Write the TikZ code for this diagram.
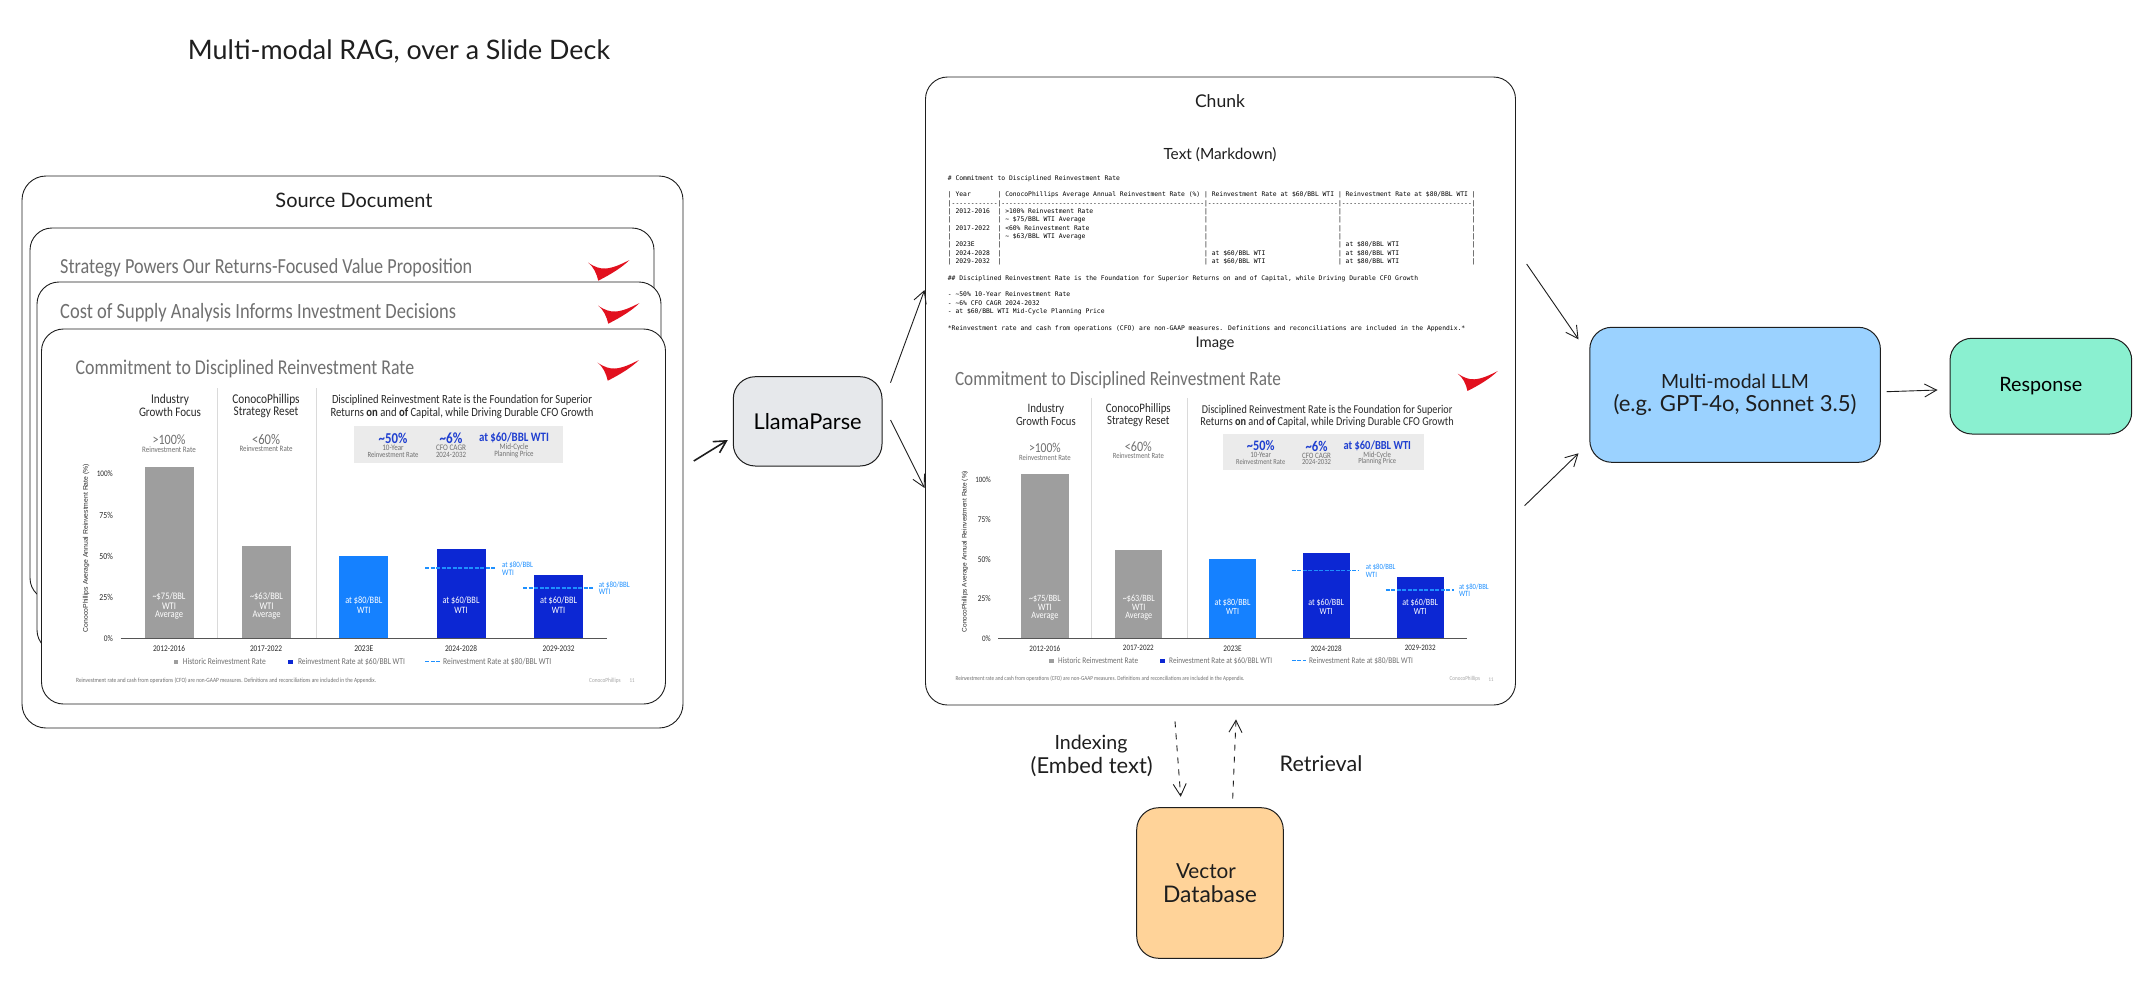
\documentclass[tikz,border=0pt]{standalone}
\usepackage{graphicx}
\usepackage{fontspec}
\usetikzlibrary{arrows.meta}
\setmainfont{Carlito}
\newfontfamily\handf{Lato}
\newfontfamily\arialf{Liberation Sans}
\newfontfamily\mdf{DejaVu Sans Mono}
\definecolor{ink}{HTML}{1E1E1E}
\definecolor{sgray}{HTML}{707070}
\definecolor{sdark}{HTML}{2A2A2A}
\definecolor{barg}{HTML}{9E9E9E}
\definecolor{barl}{HTML}{1581FF}
\definecolor{bard}{HTML}{0C27D3}
\definecolor{sblue}{HTML}{1F3FD0}
\definecolor{dashb}{HTML}{1E90FF}
\definecolor{divc}{HTML}{DADADA}
\definecolor{boxg}{HTML}{EBEBEB}
\definecolor{logor}{HTML}{E2101E}
\definecolor{llamac}{HTML}{E6E8EB}
\definecolor{llmc}{HTML}{9BD2FF}
\definecolor{respc}{HTML}{8AF0D0}
\definecolor{vdbc}{HTML}{FFD399}
\newcommand\fw[2]{\resizebox{#1pt}{!}{#2}}
\newlength\mdch \setlength{\mdch}{3.825pt}
\newcommand\mdrow[4]{|\makebox[12\mdch][l]{#1}|\makebox[53\mdch][l]{#2}|\makebox[34\mdch][l]{#3}|\makebox[34\mdch][l]{#4}|}
\newcommand\mddash[1]{\makebox[#1\mdch][l]{\xleaders\hbox{-}\hfill}}
\tikzset{
  panel/.style={draw=ink,line width=.9pt,fill=white,rounded corners=22pt,inner sep=0pt},
  flow/.style={draw=ink,line width=1pt,rounded corners=22pt,inner sep=0pt},
  arr/.style={draw=ink,line width=.9pt,-{Straight Barb[length=12pt,width=13pt]}},
  arrthick/.style={arr,line width=1.6pt},
  dasharr/.style={arr,dash pattern=on 6pt off 6pt},
  hand/.style={inner sep=0pt,text=ink,font=\handf\fontsize{20}{24}\selectfont},
  sltext/.style={inner sep=0pt,text=sgray,font=\fontsize{20}{24}\selectfont},
  sdarkt/.style={sltext,text=sdark},
  sbluet/.style={sltext,text=sblue,font=\bfseries\fontsize{20}{24}\selectfont},
  swhite/.style={sltext,text=white},
  slb/.style={sltext,text=dashb},
  dashline/.style={draw=dashb,line width=1.4pt,dash pattern=on 4pt off 1.5pt},
}
\newcommand\sltxt[6][]{\node[sltext,#1] (#2) at (#3,#4) {\scalebox{1}[1.18]{\fw{#5}{#6}}};}
\newcommand\logomark[2]{\fill[logor,shift={(#1,#2)}] (0.7,2.7) .. controls (7,7) and (13,9) .. (18,8.5) .. controls (26,8) and (34,4) .. (42,0) .. controls (35,7) and (24,14) .. (10.7,20.7) .. controls (9,13) and (6,7) .. (0.7,2.7) -- cycle;}
\newcommand\slidebody{%
  \sltxt[anchor=west]{title}{75.5}{369}{338.5}{Commitment to Disciplined Reinvestment Rate}
  \logomark{597}{360}
  \draw[divc,line width=.7pt] (217.4,388) -- (217.4,638.3);
  \draw[divc,line width=.7pt] (316.5,388) -- (316.5,638.3);
  \sltxt[sdarkt]{ha}{170}{400}{38}{Industry}
  \sltxt[sdarkt]{hb}{170}{412}{62}{Growth Focus}
  \sltxt[sdarkt]{hc}{266}{400}{67.4}{ConocoPhillips}
  \sltxt[sdarkt]{hd}{266}{412}{64.7}{Strategy Reset}
  \sltxt[sdarkt]{he}{462}{400.5}{260}{Disciplined Reinvestment Rate is the Foundation for Superior}
  \sltxt[sdarkt]{hf}{462}{413}{263}{Returns \textbf{on} and \textbf{of} Capital, while Driving Durable CFO Growth}
  \sltxt{pa}{169}{440}{33}{>100\%}
  \sltxt{pb}{169}{450}{53.6}{Reinvestment Rate}
  \sltxt{pc}{266}{439}{28}{<60\%}
  \sltxt{pd}{266}{448.5}{53}{Reinvestment Rate}
  \fill[boxg] (354,425.7) rectangle (563,463);
  \sltxt[sbluet]{ka}{393}{438}{28.6}{\textasciitilde50\%}
  \sltxt{kb}{393}{447.5}{21.4}{10-Year}
  \sltxt{kc}{393}{454.5}{51}{Reinvestment Rate}
  \sltxt[sbluet]{kd}{451}{438}{22.8}{\textasciitilde6\%}
  \sltxt{ke}{451}{448}{30}{CFO CAGR}
  \sltxt{kf}{451}{455}{30}{2024-2032}
  \sltxt[sbluet]{kg}{514}{438}{70}{at \$60/BBL WTI}
  \sltxt{kh}{514}{447.5}{28.6}{Mid-Cycle}
  \sltxt{ki}{514}{454.5}{39.3}{Planning Price}
  \fill[barg] (144.6,466.7) rectangle (193.7,638.3);
  \fill[barg] (242,546) rectangle (291,638.3);
  \fill[barl] (339,556) rectangle (388,638.3);
  \fill[bard] (436.6,549.3) rectangle (485.7,638.3);
  \fill[bard] (534,574.7) rectangle (583,638.3);
  \draw[sdark!80,line width=.9pt] (120.5,638.3) -- (607,638.3);
  \draw[dashline] (425,568) -- (495.5,568);
  \draw[dashline] (523,588) -- (594,588);
  \sltxt[swhite]{ba}{169}{596.7}{33}{\textasciitilde\$75/BBL}
  \sltxt[swhite]{bb}{169}{606}{14}{WTI}
  \sltxt[swhite]{bc}{169}{615}{28}{Average}
  \sltxt[swhite]{bd}{266.5}{596.7}{33}{\textasciitilde\$63/BBL}
  \sltxt[swhite]{be}{266.5}{606}{14}{WTI}
  \sltxt[swhite]{bf}{266.5}{615}{28}{Average}
  \sltxt[swhite]{bg}{363.8}{601}{37}{at \$80/BBL}
  \sltxt[swhite]{bh}{363.8}{610}{13.4}{WTI}
  \sltxt[swhite]{bi}{461}{601}{37}{at \$60/BBL}
  \sltxt[swhite]{bj}{461}{610}{13.4}{WTI}
  \sltxt[swhite]{bk}{558.6}{601}{37}{at \$60/BBL}
  \sltxt[swhite]{bl}{558.6}{610}{13.4}{WTI}
  \sltxt[slb,anchor=west]{la}{502}{564.7}{30.8}{at \$80/BBL}
  \sltxt[slb,anchor=west]{lb}{502}{572.3}{11.6}{WTI}
  \sltxt[slb,anchor=west]{lc}{598.7}{584.7}{30.8}{at \$80/BBL}
  \sltxt[slb,anchor=west]{ld}{598.7}{592}{11.6}{WTI}
  \sltxt[sdarkt]{ya}{169}{648.7}{32}{2012-2016}
  \sltxt[sdarkt]{yb}{266}{648.7}{32}{2017-2022}
  \sltxt[sdarkt]{yc}{363.8}{648.7}{19}{2023E}
  \sltxt[sdarkt]{yd}{461}{648.7}{32}{2024-2028}
  \sltxt[sdarkt]{ye}{558.6}{648.7}{32}{2029-2032}
  \sltxt[sdarkt,anchor=east]{ta}{113}{473.7}{16}{100\%}
  \sltxt[sdarkt,anchor=east]{tb}{113}{515}{13.4}{75\%}
  \sltxt[sdarkt,anchor=east]{tc}{113}{556}{13.4}{50\%}
  \sltxt[sdarkt,anchor=east]{td}{113}{597}{13.4}{25\%}
  \sltxt[sdarkt,anchor=east]{te}{113}{638.3}{9}{0\%}
  \node[sltext,text=sdark,rotate=90,font=\arialf\fontsize{20}{24}\selectfont] (ytitle) at (86,548) {\fw{168}{ConocoPhillips Average Annual Reinvestment Rate (\%)}};
  \fill[barg] (173.5,659.5) rectangle (178,664);
  \sltxt[anchor=west]{lga}{182.6}{661.7}{83}{Historic Reinvestment Rate}
  \fill[bard] (288.4,659.5) rectangle (293.3,664);
  \sltxt[anchor=west]{lgb}{297.8}{661.7}{107}{Reinvestment Rate at \$60/BBL WTI}
  \draw[dashline] (425.4,661.7) -- (440,661.7);
  \sltxt[anchor=west]{lgc}{443}{661.7}{108}{Reinvestment Rate at \$80/BBL WTI}
  \sltxt[anchor=west]{fn}{76}{680.3}{300}{Reinvestment rate and cash from operations (CFO) are non-GAAP measures. Definitions and reconciliations are included in the Appendix.}
  \sltxt[anchor=west,text=gray!70]{fc}{589}{681}{31.5}{ConocoPhillips}
  \sltxt[anchor=west,text=gray!70]{fp}{629.5}{681}{5}{11}
}
\begin{document}
\begin{tikzpicture}[x=1pt,y=-1pt]
\useasboundingbox (0,0) rectangle (2153,1005);

\node[hand] (maintitle) at (399,51) {\fw{422}{Multi-modal RAG, over a Slide Deck}};

% source document
\node[panel,minimum width=661pt,minimum height=552pt,rounded corners=24pt] (source) at (352.5,452) {};
\node[hand] (sourcet) at (354,200) {\fw{157}{Source Document}};
\node[panel,minimum width=624pt,minimum height=372pt] (sa) at (342,414) {};
\sltxt[anchor=west]{sat}{60}{268}{412}{Strategy Powers Our Returns-Focused Value Proposition}
\logomark{587.5}{260}
\node[panel,minimum width=624pt,minimum height=370pt] (sb) at (349,467) {};
\sltxt[anchor=west]{sbt}{60}{313}{396}{Cost of Supply Analysis Informs Investment Decisions}
\logomark{597.5}{303}
\node[panel,minimum width=624pt,minimum height=375pt] (sc) at (353.5,516.5) {};
\begin{scope}[name prefix=s3-]
\slidebody
\end{scope}

% chunk
\node[panel,minimum width=590pt,minimum height=628pt] (chunk) at (1220.5,391) {};
\node[hand] (chunkt) at (1220,100.7) {\fw{50}{Chunk}};
\node[hand] (mdt) at (1220,155) {\fw{113}{Text (Markdown)}};
\node[inner sep=0pt,anchor=north west,align=left,text=black,font=\mdf\fontsize{6.35}{8.33}\selectfont] (md) at (947.7,175) {%
\# Commitment to Disciplined Reinvestment Rate\\
\mbox{}\\
\mdrow{~Year}{~ConocoPhillips Average Annual Reinvestment Rate (\%)}{~Reinvestment Rate at \$60/BBL WTI}{~Reinvestment Rate at \$80/BBL WTI}\\
|\mddash{12}|\mddash{53}|\mddash{34}|\mddash{34}|\\
\mdrow{~2012-2016}{~>100\% Reinvestment Rate}{}{}\\
\mdrow{}{~\textasciitilde{} \$75/BBL WTI Average}{}{}\\
\mdrow{~2017-2022}{~<60\% Reinvestment Rate}{}{}\\
\mdrow{}{~\textasciitilde{} \$63/BBL WTI Average}{}{}\\
\mdrow{~2023E}{}{}{~at \$80/BBL WTI}\\
\mdrow{~2024-2028}{}{~at \$60/BBL WTI}{~at \$80/BBL WTI}\\
\mdrow{~2029-2032}{}{~at \$60/BBL WTI}{~at \$80/BBL WTI}\\
\mbox{}\\
\#\# Disciplined Reinvestment Rate is the Foundation for Superior Returns on and of Capital, while Driving Durable CFO Growth\\
\mbox{}\\
- \textasciitilde50\% 10-Year Reinvestment Rate\\
- \textasciitilde6\% CFO CAGR 2024-2032\\
- at \$60/BBL WTI Mid-Cycle Planning Price\\
\mbox{}\\
*Reinvestment rate and cash from operations (CFO) are non-GAAP measures. Definitions and reconciliations are included in the Appendix.*};
\node[hand] (imaget) at (1215,344) {\fw{39}{Image}};
\begin{scope}[shift={(882.1,25.5)},xscale=.9633,yscale=.96,transform shape,name prefix=ch-]
\slidebody
\end{scope}

% boxes
\node[flow,fill=llamac,minimum width=148.7pt,minimum height=89.3pt] (llama) at (807.65,421.35) {\fw{108}{\handf\fontsize{20}{24}\selectfont LlamaParse}};
\node[flow,fill=llmc,minimum width=290.6pt,minimum height=135pt] (llm) at (1735.1,394.8) {};
\node[hand] (llma) at (1735,381) {\fw{148}{Multi-modal LLM}};
\node[hand] (llmb) at (1735,405) {\fw{243}{(e.g. GPT-4o, Sonnet 3.5)}};
\node[flow,fill=respc,minimum width=181.7pt,minimum height=95.7pt] (resp) at (2040.85,386.15) {\fw{83}{\handf\fontsize{20}{24}\selectfont Response}};
\node[flow,fill=vdbc,minimum width=146.6pt,minimum height=150.6pt] (vdb) at (1210,883) {};
\node[hand] (vdba) at (1206,870.7) {\fw{60}{Vector}};
\node[hand] (vdbb) at (1210,894.3) {\fw{94}{Database}};
\node[hand] (idxa) at (1091,744) {\fw{73}{Indexing}};
\node[hand] (idxb) at (1091.7,766.7) {\fw{122}{(Embed text)}};
\node[hand] (retr) at (1321,764) {\fw{82.6}{Retrieval}};

% connectors
\draw[arrthick] ([shift={(10.3,9)}]source.east) -- ([shift={(-5,18.65)}]llama.west);
\draw[arr] ([shift={(8,-38.65)}]llama.east) -- ([shift={(-0.5,-101)}]chunk.west);
\draw[arr] ([shift={(8,-1.35)}]llama.east) -- ([shift={(-0.5,97)}]chunk.west);
\draw[arr] ([shift={(10.7,-127)}]chunk.east) -- ([shift={(-10.8,-55.5)}]llm.west);
\draw[arr] ([shift={(8.6,114.7)}]chunk.east) -- ([shift={(-10.8,58.5)}]llm.west);
\draw[arr] ([shift={(5.6,-3.1)}]llm.east) -- ([shift={(-12,3.85)}]resp.west);
\draw[dasharr] ([shift={(-45.5,16)}]chunk.south) -- ([shift={(-29.3,-10.4)}]vdb.north);
\draw[dasharr] ([shift={(22.7,-8.7)}]vdb.north) -- ([shift={(15.5,14)}]chunk.south);
\end{tikzpicture}
\end{document}
